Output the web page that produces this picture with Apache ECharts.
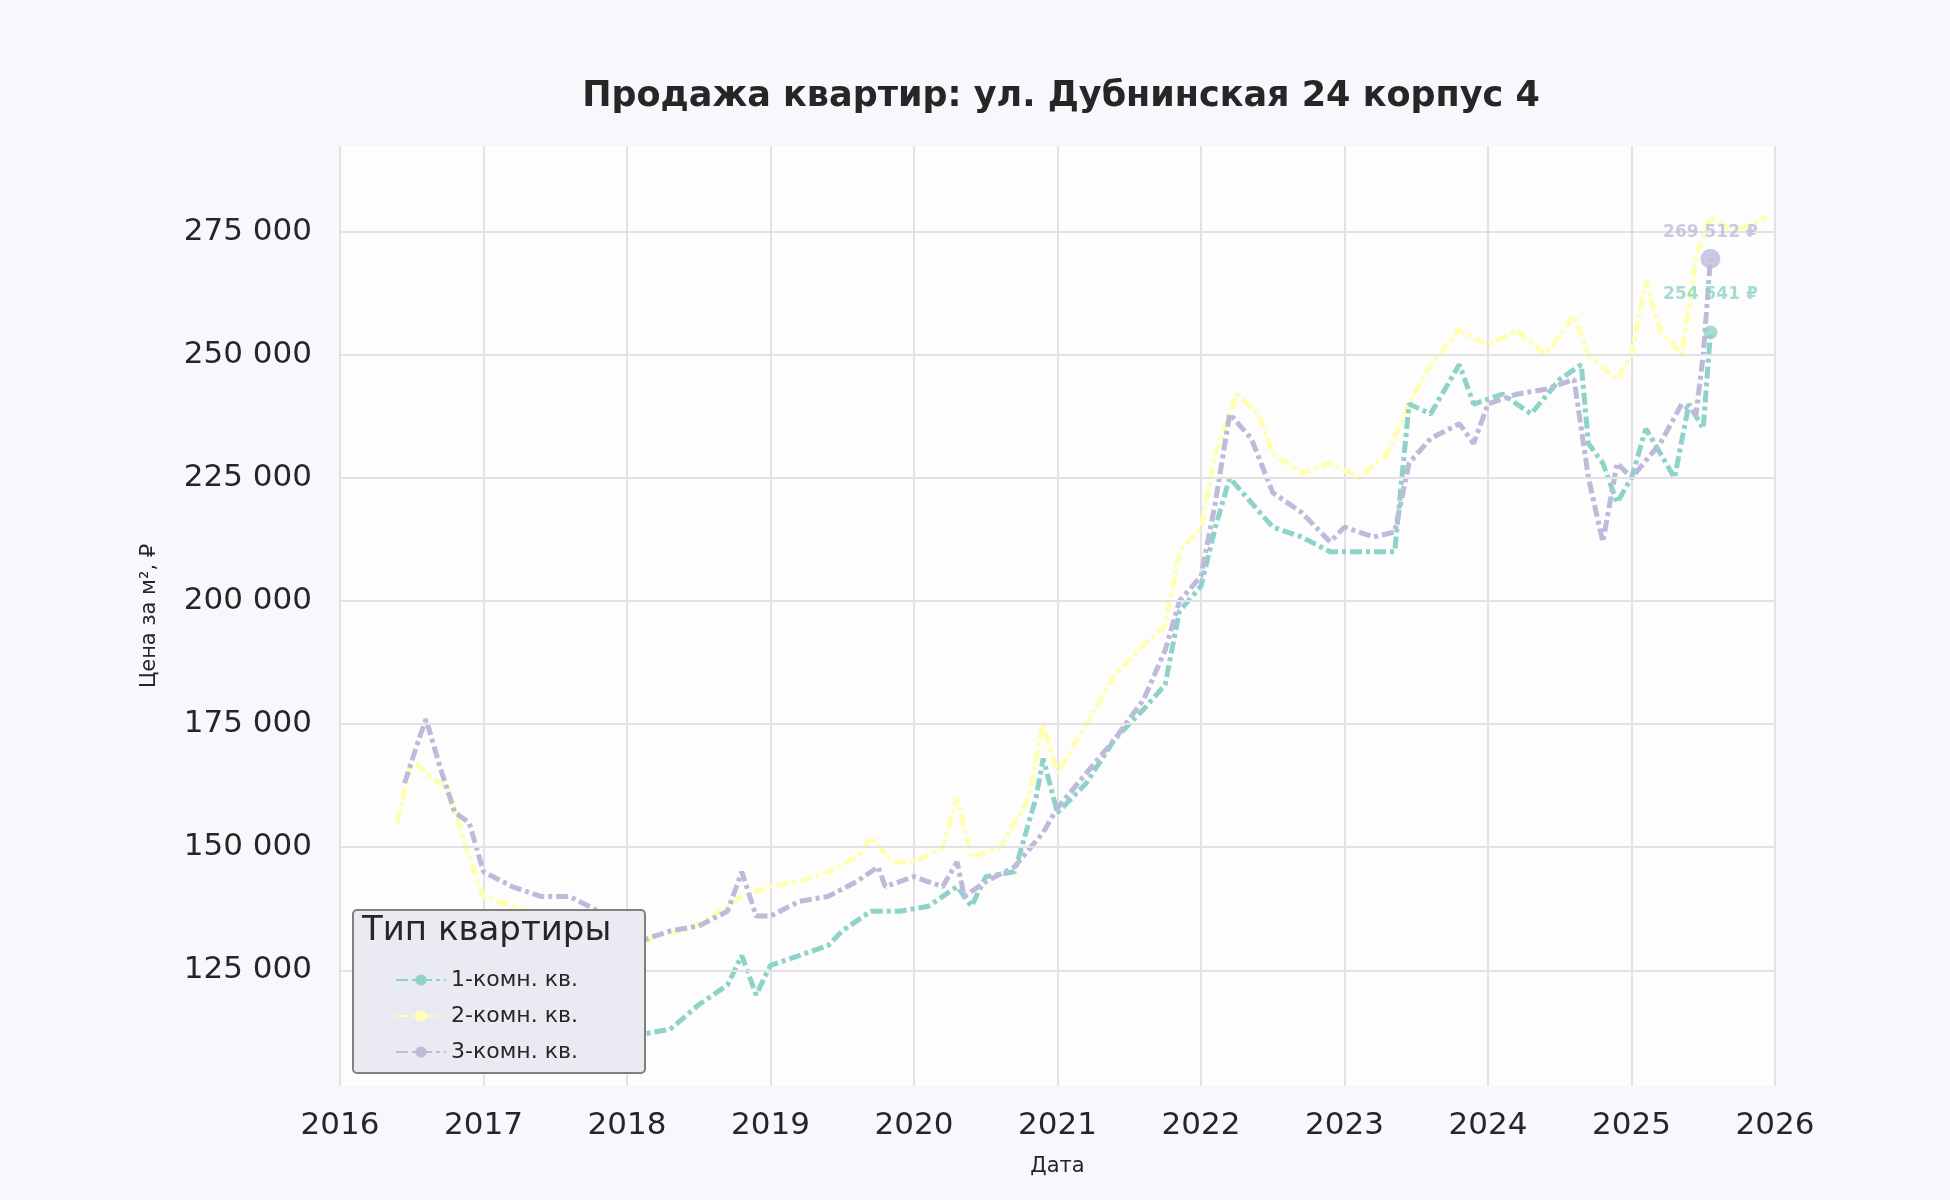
<!DOCTYPE html><html><head><meta charset="utf-8">
<script src="https://cdn.jsdelivr.net/npm/echarts@6/dist/echarts.min.js"></script>
<style>html,body{margin:0;background:#f7f8fc}#c{width:1950px;height:1200px}</style></head><body><div id="c"></div>
<script>
const years1 = [2017.9,2018.1,2018.3,2018.5,2018.7,2018.8,2018.9,2019.0,2019.2,2019.4,2019.5,2019.7,2019.9,2020.1,2020.3,2020.4,2020.5,2020.7,2020.85,2020.9,2021.0,2021.2,2021.4,2021.6,2021.75,2021.85,2022.0,2022.1,2022.2,2022.35,2022.5,2022.7,2022.9,2023.1,2023.35,2023.45,2023.6,2023.8,2023.9,2024.1,2024.3,2024.5,2024.65,2024.7,2024.8,2024.9,2025.0,2025.1,2025.2,2025.3,2025.4,2025.5,2025.55];
const price1 = [108000,112000,113000,118000,122000,128000,120000,126000,128000,130000,133000,137000,137000,138000,142000,138000,144000,145000,160000,168000,157000,163000,172000,178000,183000,198000,203000,215000,225000,220000,215000,213000,210000,210000,210000,240000,238000,248000,240000,242000,238000,245000,248000,232000,228000,220000,225000,235000,230000,225000,240000,235000,254541];
const years2 = [2016.4,2016.5,2016.6,2016.75,2016.9,2017.0,2017.2,2017.4,2017.6,2017.8,2018.0,2018.2,2018.4,2018.6,2018.8,2019.0,2019.2,2019.4,2019.6,2019.7,2019.85,2020.0,2020.2,2020.3,2020.4,2020.6,2020.8,2020.9,2021.0,2021.2,2021.4,2021.6,2021.75,2021.85,2022.0,2022.1,2022.25,2022.4,2022.5,2022.7,2022.9,2023.1,2023.3,2023.45,2023.6,2023.8,2024.0,2024.2,2024.4,2024.6,2024.7,2024.9,2025.0,2025.1,2025.2,2025.35,2025.45,2025.55,2025.7,2025.95];
const price2 = [155000,168000,165000,162000,148000,140000,138000,136000,135000,133000,128000,132000,133000,136000,140000,142000,143000,145000,148000,152000,147000,147000,150000,160000,148000,150000,160000,175000,165000,175000,185000,191000,195000,210000,215000,230000,242000,238000,230000,226000,228000,225000,230000,240000,248000,255000,252000,255000,250000,258000,250000,245000,250000,265000,255000,250000,270000,278000,275000,278000];
const years3 = [2016.45,2016.55,2016.6,2016.7,2016.8,2016.9,2017.0,2017.2,2017.4,2017.6,2017.8,2017.95,2018.1,2018.3,2018.5,2018.7,2018.8,2018.9,2019.0,2019.2,2019.4,2019.6,2019.75,2019.8,2020.0,2020.2,2020.3,2020.35,2020.5,2020.7,2020.9,2021.0,2021.2,2021.4,2021.6,2021.75,2021.85,2022.0,2022.1,2022.2,2022.35,2022.5,2022.7,2022.9,2023.0,2023.2,2023.35,2023.45,2023.6,2023.8,2023.9,2024.0,2024.2,2024.4,2024.6,2024.7,2024.8,2024.9,2025.0,2025.2,2025.35,2025.45,2025.5,2025.55];
const price3 = [163000,172000,176000,166000,157000,155000,145000,142000,140000,140000,137000,130000,131000,133000,134000,137000,145000,136000,136000,139000,140000,143000,146000,142000,144000,142000,147000,140000,143000,146000,153000,158000,165000,172000,180000,190000,200000,205000,220000,238000,233000,222000,218000,212000,215000,213000,214000,228000,233000,236000,232000,240000,242000,243000,245000,225000,212000,228000,225000,232000,240000,238000,250000,269512];
const names = ['1-комн. кв.','2-комн. кв.','3-комн. кв.'];
const colors = ['#8dd3c7','#ffffb3','#bebada'];
const yTicks = [125000,150000,175000,200000,225000,250000,275000];
const fmt = v => String(Math.round(v)).replace(/\B(?=(\d{3})+(?!\d))/g,' ');
const zip = (a,b)=>a.map((x,i)=>[x,b[i]]);
const sets = [zip(years1,price1), zip(years2,price2), zip(years3,price3)];
const ch = echarts.init(document.getElementById('c'));
const series = sets.map((d,i)=>({name:names[i],type:'line',data:d,symbol:'none',color:colors[i],
  lineStyle:{width:5,type:[12,4,4,4],color:colors[i]},z:2+(i===1?0:1)}));
series.push({type:'scatter',data:[sets[2][sets[2].length-1]],symbolSize:20,itemStyle:{color:colors[2]},z:10,
  label:{show:true,position:'top',distance:8,formatter:p=>fmt(p.value[1])+' ₽',color:'#bebada',fontWeight:'bold',fontSize:17}});
series.push({type:'scatter',data:[sets[0][sets[0].length-1]],symbolSize:14,itemStyle:{color:colors[0]},z:10,
  label:{show:true,position:'top',distance:22,formatter:p=>fmt(p.value[1])+' ₽',color:'#8dd3c7',fontWeight:'bold',fontSize:17}});
ch.setOption({
  backgroundColor:'#f7f8fc',
  textStyle:{fontFamily:'DejaVu Sans'},
  title:{text:'Продажа квартир: ул. Дубнинская 24 корпус 4',left:1056,top:74,textAlign:'center',
    textStyle:{fontSize:35,fontWeight:'bold',color:'#262626',fontFamily:'DejaVu Sans'}},
  grid:{left:340,right:175,top:146,bottom:114,backgroundColor:'#fdfdfe',show:true,borderWidth:0},
  xAxis:{type:'value',min:2016,max:2026,interval:1,name:'Дата',nameLocation:'middle',nameGap:70,
    nameTextStyle:{fontSize:21,color:'#262626'},
    axisLabel:{formatter:v=>String(v),fontSize:31,color:'#262626',margin:24},
    axisLine:{show:false},axisTick:{show:false},splitLine:{lineStyle:{color:'#e2e2e2',width:2}}},
  yAxis:{type:'value',min:101500,max:292400,name:'Цена за м², ₽',nameLocation:'middle',nameGap:180,
    nameTextStyle:{fontSize:21,color:'#262626'},
    axisLabel:{customValues:yTicks,formatter:v=>fmt(v),fontSize:31,color:'#262626',margin:28},
    axisTick:{show:false},axisLine:{show:false},splitLine:{show:false}},
  graphic:[
    {type:'rect',left:352,top:909,shape:{width:292,height:163,r:4},style:{fill:'#eaeaf2',stroke:'#808080',lineWidth:2},z:20},
    {type:'text',left:362,top:914,style:{text:'Тип квартиры',fontSize:34,fill:'#262626',fontFamily:'DejaVu Sans'},z:21}
  ],
  legend:{orient:'vertical',left:390,top:964,itemGap:14,itemWidth:50,itemHeight:14,z:22,
    textStyle:{fontSize:22,color:'#262626'},data:names},
  series: series.concat([{type:'line',data:[],markLine:{silent:true,symbol:'none',label:{show:false},
    lineStyle:{color:'#e2e2e2',width:2,type:'solid'},data:yTicks.map(v=>({yAxis:v}))},z:1}])
});
</script></body></html>
